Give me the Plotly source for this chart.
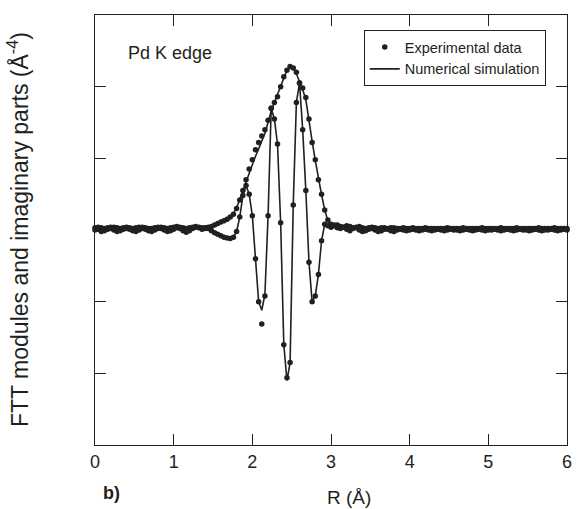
import plotly.graph_objects as go

# R grid (Å)
R = [0.00, 0.04, 0.08, 0.12, 0.16, 0.20, 0.24, 0.28, 0.32, 0.36,
     0.40, 0.44, 0.48, 0.52, 0.56, 0.60, 0.64, 0.68, 0.72, 0.76,
     0.80, 0.84, 0.88, 0.92, 0.96, 1.00, 1.04, 1.08, 1.12, 1.16,
     1.20, 1.24, 1.28, 1.32, 1.36, 1.40, 1.44, 1.48, 1.52, 1.56,
     1.60, 1.64, 1.68, 1.72, 1.76, 1.80, 1.84, 1.88, 1.92, 1.96,
     2.00, 2.04, 2.08, 2.12, 2.16, 2.20, 2.24, 2.28, 2.32, 2.36,
     2.40, 2.44, 2.48, 2.52, 2.56, 2.60, 2.64, 2.68, 2.72, 2.76,
     2.80, 2.84, 2.88, 2.92, 2.96, 3.00, 3.04, 3.08, 3.12, 3.16,
     3.20, 3.24, 3.28, 3.32, 3.36, 3.40, 3.44, 3.48, 3.52, 3.56,
     3.60, 3.64, 3.68, 3.72, 3.76, 3.80, 3.84, 3.88, 3.92, 3.96,
     4.00, 4.04, 4.08, 4.12, 4.16, 4.20, 4.24, 4.28, 4.32, 4.36,
     4.40, 4.44, 4.48, 4.52, 4.56, 4.60, 4.64, 4.68, 4.72, 4.76,
     4.80, 4.84, 4.88, 4.92, 4.96, 5.00, 5.04, 5.08, 5.12, 5.16,
     5.20, 5.24, 5.28, 5.32, 5.36, 5.40, 5.44, 5.48, 5.52, 5.56,
     5.60, 5.64, 5.68, 5.72, 5.76, 5.80, 5.84, 5.88, 5.92, 5.96,
     6.00]

# Experimental data: FT modulus
mod_exp = [0.03, 0.04, 0.03, 0.02, 0.03, 0.04, 0.04, 0.03, 0.02, 0.03,
           0.04, 0.03, 0.02, 0.03, 0.04, 0.04, 0.03, 0.02, 0.02, 0.03,
           0.04, 0.04, 0.03, 0.02, 0.03, 0.04, 0.05, 0.04, 0.03, 0.02,
           0.03, 0.04, 0.05, 0.04, 0.03, 0.03, 0.04, 0.05, 0.07, 0.09,
           0.11, 0.13, 0.15, 0.18, 0.22, 0.30, 0.42, 0.55, 0.70, 0.85,
           0.98, 1.12, 1.22, 1.31, 1.40, 1.53, 1.70, 1.78, 1.86, 2.00,
           2.14, 2.23, 2.28, 2.26, 2.20, 2.05, 1.98, 1.85, 1.55, 1.22,
           0.98, 0.70, 0.50, 0.28, 0.14, 0.08, 0.06, 0.07, 0.05, 0.04,
           0.06, 0.05, 0.03, 0.04, 0.05, 0.03, 0.02, 0.03, 0.04, 0.03,
           0.02, 0.03, 0.03, 0.02, 0.03, 0.03, 0.02, 0.02, 0.03, 0.02,
           0.02, 0.03, 0.02, 0.02, 0.02, 0.03, 0.02, 0.02, 0.02, 0.02,
           0.02, 0.02, 0.03, 0.02, 0.02, 0.02, 0.02, 0.03, 0.02, 0.02,
           0.02, 0.02, 0.02, 0.03, 0.02, 0.02, 0.02, 0.02, 0.02, 0.03,
           0.02, 0.02, 0.02, 0.02, 0.03, 0.02, 0.02, 0.02, 0.02, 0.02,
           0.02, 0.03, 0.02, 0.02, 0.02, 0.02, 0.03, 0.02, 0.02, 0.02,
           0.02]

# Experimental data: FT imaginary part
im_exp = [0.00, 0.01, -0.02, -0.01, 0.01, 0.02, 0.00, -0.02, -0.01, 0.01,
          0.02, 0.01, -0.01, -0.02, 0.00, 0.02, 0.01, -0.01, -0.02, 0.00,
          0.02, 0.02, 0.00, -0.02, -0.01, 0.01, 0.03, 0.02, -0.01, -0.03,
          -0.01, 0.02, 0.04, 0.03, 0.01, 0.02, 0.02, -0.01, -0.04, -0.06,
          -0.08, -0.10, -0.11, -0.12, -0.10, -0.02, 0.18, 0.48, 0.62, 0.50,
          0.20, -0.40, -1.00, -1.31, -0.92, 0.20, 1.70, 1.55, 1.20, 0.10,
          -1.60, -2.06, -1.85, 0.35, 1.78, 2.05, 1.40, 0.55, -0.45, -1.00,
          -0.92, -0.62, -0.15, 0.08, 0.06, 0.04, 0.07, 0.03, 0.02, 0.04,
          0.01, -0.01, 0.02, 0.03, 0.00, -0.02, -0.01, 0.01, 0.02, 0.00,
          -0.02, -0.01, 0.01, 0.01, -0.01, -0.02, 0.00, 0.01, 0.00, -0.01,
          0.00, 0.01, 0.00, -0.01, 0.00, 0.01, 0.00, -0.01, 0.00, 0.01,
          0.00, -0.01, 0.00, 0.01, 0.00, 0.00, -0.01, 0.00, 0.01, 0.00,
          -0.01, 0.00, 0.01, 0.00, -0.01, 0.00, 0.00, 0.01, 0.00, -0.01,
          0.00, 0.01, 0.00, -0.01, 0.00, 0.01, 0.00, 0.00, -0.01, 0.00,
          0.01, 0.00, -0.01, 0.00, 0.00, 0.01, 0.00, -0.01, 0.00, 0.01,
          0.00]

# Numerical simulation: modulus
mod_sim = [0.03, 0.03, 0.03, 0.03, 0.03, 0.03, 0.03, 0.03, 0.03, 0.03,
           0.03, 0.03, 0.03, 0.03, 0.03, 0.03, 0.03, 0.03, 0.03, 0.03,
           0.03, 0.03, 0.03, 0.03, 0.03, 0.04, 0.04, 0.04, 0.03, 0.03,
           0.03, 0.03, 0.04, 0.04, 0.03, 0.03, 0.04, 0.05, 0.06, 0.08,
           0.10, 0.12, 0.15, 0.18, 0.23, 0.31, 0.42, 0.54, 0.67, 0.80,
           0.92, 1.03, 1.13, 1.24, 1.35, 1.50, 1.66, 1.78, 1.90, 2.02,
           2.14, 2.23, 2.28, 2.26, 2.18, 2.07, 1.96, 1.82, 1.56, 1.24,
           0.97, 0.70, 0.49, 0.28, 0.13, 0.07, 0.06, 0.06, 0.05, 0.04,
           0.05, 0.04, 0.03, 0.04, 0.04, 0.03, 0.03, 0.03, 0.03, 0.03,
           0.03, 0.03, 0.03, 0.03, 0.03, 0.03, 0.02, 0.02, 0.02, 0.02,
           0.02, 0.02, 0.02, 0.02, 0.02, 0.02, 0.02, 0.02, 0.02, 0.02,
           0.02, 0.02, 0.02, 0.02, 0.02, 0.02, 0.02, 0.02, 0.02, 0.02,
           0.02, 0.02, 0.02, 0.02, 0.02, 0.02, 0.02, 0.02, 0.02, 0.02,
           0.02, 0.02, 0.02, 0.02, 0.02, 0.02, 0.02, 0.02, 0.02, 0.02,
           0.02, 0.02, 0.02, 0.02, 0.02, 0.02, 0.02, 0.02, 0.02, 0.02,
           0.02]

# Numerical simulation: imaginary part
im_sim = [0.00, 0.00, -0.01, -0.01, 0.00, 0.01, 0.00, -0.01, -0.01, 0.00,
          0.01, 0.01, 0.00, -0.01, 0.00, 0.01, 0.01, 0.00, -0.01, 0.00,
          0.01, 0.01, 0.00, -0.01, -0.01, 0.01, 0.02, 0.01, -0.01, -0.02,
          -0.01, 0.01, 0.03, 0.03, 0.01, 0.02, 0.02, -0.01, -0.04, -0.06,
          -0.08, -0.10, -0.11, -0.12, -0.10, -0.02, 0.18, 0.48, 0.62, 0.50,
          0.20, -0.40, -1.00, -1.12, -0.90, 0.20, 1.70, 1.55, 1.20, 0.10,
          -1.60, -2.10, -1.85, 0.35, 1.78, 2.05, 1.40, 0.55, -0.45, -1.00,
          -0.92, -0.62, -0.15, 0.08, 0.06, 0.04, 0.06, 0.03, 0.02, 0.03,
          0.01, 0.00, 0.01, 0.02, 0.00, -0.01, -0.01, 0.01, 0.01, 0.00,
          -0.01, -0.01, 0.00, 0.01, 0.00, -0.01, 0.00, 0.00, 0.00, 0.00,
          0.00, 0.00, 0.00, 0.00, 0.00, 0.00, 0.00, 0.00, 0.00, 0.00,
          0.00, 0.00, 0.00, 0.00, 0.00, 0.00, 0.00, 0.00, 0.00, 0.00,
          0.00, 0.00, 0.00, 0.00, 0.00, 0.00, 0.00, 0.00, 0.00, 0.00,
          0.00, 0.00, 0.00, 0.00, 0.00, 0.00, 0.00, 0.00, 0.00, 0.00,
          0.00, 0.00, 0.00, 0.00, 0.00, 0.00, 0.00, 0.00, 0.00, 0.00,
          0.00]

x_ticks = [0, 1, 2, 3, 4, 5, 6]
y_ticks = [-2, -1, 0, 1, 2]

INK = "#231f20"
FONT = "Liberation Sans, Arial, sans-serif"

fig = go.Figure()

fig.add_trace(go.Scatter(x=R, y=mod_sim, mode="lines", name="Numerical simulation",
                         line=dict(color=INK, width=1.6), legendrank=2, showlegend=True,
                         cliponaxis=False))
fig.add_trace(go.Scatter(x=R, y=im_sim, mode="lines", name="Numerical simulation",
                         line=dict(color=INK, width=1.6), showlegend=False, cliponaxis=False))
fig.add_trace(go.Scatter(x=R, y=mod_exp, mode="markers", name="Experimental data",
                         marker=dict(color=INK, size=5.5), legendrank=1, showlegend=True,
                         cliponaxis=False))
fig.add_trace(go.Scatter(x=R, y=im_exp, mode="markers", name="Experimental data",
                         marker=dict(color=INK, size=5.5), showlegend=False, cliponaxis=False))

fig.update_layout(
    width=580, height=509,
    margin=dict(l=95, r=8, t=15, b=64),
    paper_bgcolor="white", plot_bgcolor="white",
    font=dict(family=FONT, color=INK),
    showlegend=True,
    legend=dict(x=0.955, y=0.965, xanchor="right", yanchor="top",
                bordercolor=INK, borderwidth=1, bgcolor="white",
                font=dict(size=14.5, family=FONT, color=INK),
                tracegroupgap=0, itemwidth=30),
    xaxis=dict(range=[0, 6], tickvals=x_ticks, ticks="inside", ticklen=11,
               tickcolor=INK, showline=True, linecolor=INK, linewidth=1.2,
               mirror="ticks", showgrid=False, zeroline=False,
               tickfont=dict(size=18, family=FONT, color=INK)),
    yaxis=dict(range=[-3, 3], tickvals=y_ticks, ticks="inside", ticklen=11,
               tickcolor=INK, showline=True, linecolor=INK, linewidth=1.2,
               mirror="ticks", showgrid=False, zeroline=False,
               showticklabels=False),
    annotations=[
        dict(text="Pd K edge", xref="paper", yref="paper", x=0.066, y=0.912,
             xanchor="left", yanchor="middle", showarrow=False,
             font=dict(size=18, family=FONT, color=INK)),
        dict(text="R (Å)", xref="paper", yref="paper", x=0.539, y=0,
             yshift=-52, xanchor="center", yanchor="middle", showarrow=False,
             font=dict(size=19, family=FONT, color=INK)),
        dict(text="FTT modules and imaginary parts (Å<sup>-4</sup>)", xref="paper",
             yref="paper", x=0, xshift=-77, y=0.5, textangle=-90,
             xanchor="center", yanchor="middle", showarrow=False,
             font=dict(size=23, family=FONT, color=INK)),
        dict(text="<b>b)</b>", xref="paper", yref="paper", x=0, xshift=16, y=0,
             yshift=-48, xanchor="center", yanchor="middle", showarrow=False,
             font=dict(size=18, family=FONT, color=INK)),
    ],
)

fig.write_html("out.html", config={"displayModeBar": False})

# remove default body margin so the figure sits at the page's top-left corner
with open("out.html", "r", encoding="utf-8") as f:
    html = f.read()
html = html.replace("<body>", '<body style="margin:0;padding:0;">', 1)
with open("out.html", "w", encoding="utf-8") as f:
    f.write(html)
